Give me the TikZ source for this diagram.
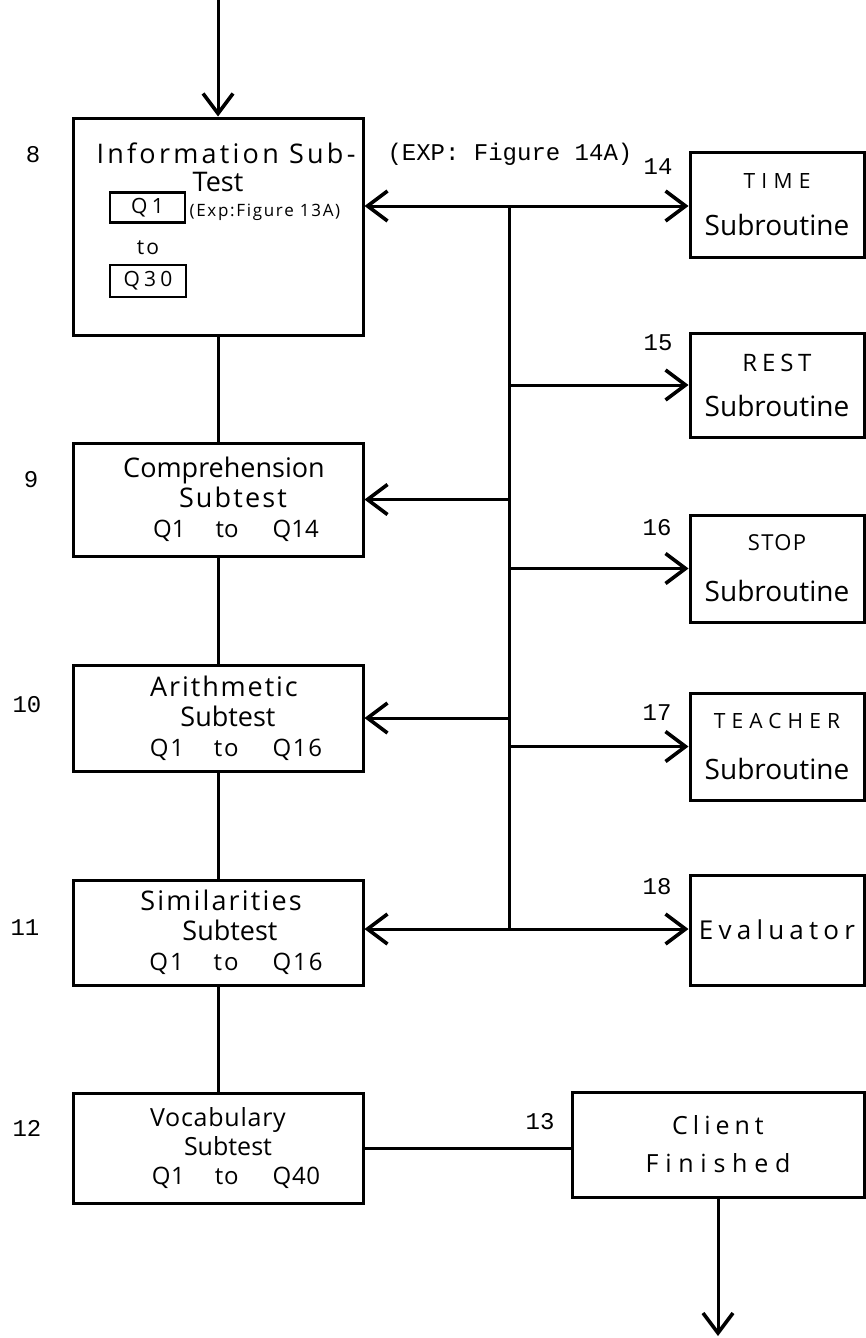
\documentclass[tikz,border=0pt]{standalone}
\usepackage{fontspec}
\usetikzlibrary{arrows.meta}
\newfontfamily\handfont{Open Sans}
\newfontfamily\typefont{Liberation Mono}
\newcommand\hw[3]{\handfont\fontsize{#1}{#2}\addfontfeature{LetterSpace=#3}}
\newcommand\qline[2]{{\fontsize{24}{30}\selectfont\hspace*{36pt}Q1\hspace{30pt}to\hspace{34pt}Q#1#2}}

\begin{document}
\begin{tikzpicture}[x=1pt,y=-1pt,
    box/.style={draw,line width=3pt,inner sep=0pt,align=center,minimum width=290pt},
    rbox/.style={box,minimum width=174pt},
    qbox/.style={draw,line width=2.6pt,inner sep=0pt},
    num/.style={font=\typefont\fontsize{24}{26}\selectfont},
    line/.style={line width=3pt},
    arr/.style={line,-{Straight Barb[length=20pt,width=30pt,line width=3.6pt]}},
    arr2/.style={line,{Straight Barb[length=20pt,width=30pt,line width=3.6pt]}-{Straight Barb[length=20pt,width=30pt,line width=3.6pt]}}]
    \useasboundingbox (0,0) rectangle (866,1338);

    % left column
    \node[box,minimum height=217pt] (info) at (218,226.5) {};
    \node[box,minimum height=113pt,font=\hw{27}{30}{0}] (comp) at (218,499.5)
        {\hspace*{12pt}Comprehension\\{\addfontfeature{LetterSpace=8}\hspace*{30pt}Subtest}\\\qline{1}{4}};
    \node[box,minimum height=106pt,font=\hw{27}{30}{7}] (arith) at (218,718)
        {\hspace*{12pt}Arithmetic\\{\addfontfeature{LetterSpace=0}\hspace*{20pt}Subtest}\\\qline{1}{6}};
    \node[box,minimum height=105pt,font=\hw{27}{30}{8}] (sim) at (218,932.5)
        {\hspace*{6pt}Similarities\\{\addfontfeature{LetterSpace=0}\hspace*{24pt}Subtest}\\\qline{1}{6}};
    \node[box,minimum height=110pt,font=\hw{25}{29}{3}] (voc) at (218,1148)
        {Vocabulary\\{\addfontfeature{LetterSpace=0}\hspace*{20pt}Subtest}\\\qline{4}{0}};

    % inside the information box
    \node[font=\hw{27}{30}{12}] (infotitle) at (226,153) {Information Sub-};
    \node[font=\hw{27}{30}{0}] (infotest) at (218,182) {Test};
    \node[qbox,minimum width=75pt,minimum height=30pt,font=\hw{21}{24}{20}] (q1) at (147.5,207.5) {Q1};
    \node[anchor=west,font=\hw{17}{20}{10}] (exp13) at (186,212) {(Exp:Figure 13A)};
    \node[font=\hw{21}{24}{10}] (qto) at (148,248) {to};
    \node[qbox,minimum width=76pt,minimum height=32pt,font=\hw{21}{24}{20}] (q30) at (148,281) {Q30};
    \node[anchor=west,font=\typefont\fontsize{24}{26}\selectfont] (exp14) at (384,154) {(EXP: Figure 14A)};

    % right column
    \node[rbox,minimum height=105pt,font=\hw{28}{28}{0}] (time) at (777,204.5)
        {{\hw{21}{24}{30}TIME}\\[19pt]Subroutine};
    \node[rbox,minimum height=104pt,font=\hw{28}{28}{0}] (rest) at (777,385)
        {{\hw{24}{26}{20}REST}\\[17pt]Subroutine};
    \node[rbox,minimum height=107pt,font=\hw{28}{28}{0}] (stop) at (777,568.5)
        {{\hw{22}{24}{6}STOP}\\[23pt]Subroutine};
    \node[rbox,minimum height=107pt,font=\hw{28}{28}{0}] (teacher) at (777,746.5)
        {{\hw{21}{24}{29}TEACHER}\\[23pt]Subroutine};
    \node[rbox,minimum height=110pt,font=\hw{26}{28}{20}] (eval) at (777,930) {Evaluator};
    \node[box,minimum width=292pt,minimum height=105pt,font=\hw{25}{28}{20}] (client) at (718,1144.5)
        {Client\\[10pt]{\addfontfeature{LetterSpace=27}Finished}};

    % numbers
    \node[num] (n8) at (33,155) {8};
    \node[num] (n9) at (31,480) {9};
    \node[num] (n10) at (27,705) {10};
    \node[num] (n11) at (25,928) {11};
    \node[num] (n12) at (27,1128) {12};
    \node[num] (n13) at (540,1122) {13};
    \node[num] (n14) at (658,167) {14};
    \node[num] (n15) at (658,343) {15};
    \node[num] (n16) at (657,528) {16};
    \node[num] (n17) at (657,713) {17};
    \node[num] (n18) at (657,887) {18};

    \coordinate (start) at (218,0);
    \coordinate (stop2) at (718,1336);
    \coordinate (bt) at (509,206);
    \coordinate (bb) at (509,929);

    % main line
    \draw[arr] (start) -- (info.north);
    \draw[line] (info.south) -- (comp.north);
    \draw[line] (comp.south) -- (arith.north);
    \draw[line] (arith.south) -- (sim.north);
    \draw[line] (sim.south) -- (voc.north);
    \draw[line] (voc.east) -- (voc.east -| client.west);
    \draw[arr] (client.south) -- (stop2);

    % subroutines
    \draw[line] (bt) -- (bb);
    \draw[arr2] (info.east |- bt) -- (time.west |- bt);
    \draw[arr] (bt |- rest.west) -- (rest.west);
    \draw[arr] (bt |- comp.east) -- (comp.east);
    \draw[arr] (bt |- stop.west) -- (stop.west);
    \draw[arr] (bt |- arith.east) -- (arith.east);
    \draw[arr] (bt |- teacher.west) -- (teacher.west);
    \draw[arr2] (sim.east |- bb) -- (eval.west |- bb);
\end{tikzpicture}
\end{document}
